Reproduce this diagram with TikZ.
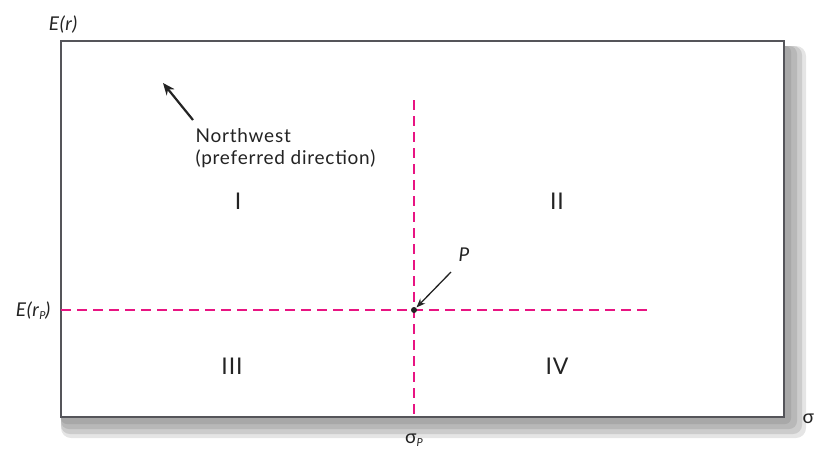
\documentclass[tikz,border=0pt]{standalone}
\usepackage{fontspec}
\setmainfont{Lato}[LetterSpace=4]
\usetikzlibrary{arrows.meta}

\definecolor{axisred}{RGB}{232,20,130}
\definecolor{boxgray}{RGB}{85,85,90}
\definecolor{inkgray}{RGB}{35,35,35}

\begin{document}
\begin{tikzpicture}[x=1pt,y=-1pt,line width=1.2pt,>=Stealth,
  every node/.style={text=inkgray,font=\fontsize{19}{22}\selectfont,inner sep=0pt},
  quad/.style={font=\fontsize{23}{26}\selectfont},
  dashaxis/.style={axisred,line width=1.5pt,dash pattern=on 10pt off 6pt},
  ptr/.style={->,inkgray}]
\useasboundingbox (0,0) rectangle (815,453);
% ================= shadow and frame =================
\fill[black!10,rounded corners=10pt] (61,46) rectangle (806,438);
\fill[black!20,rounded corners=9pt] (61,46) rectangle (802,434);
\fill[black!28,rounded corners=8pt] (61,46) rectangle (797,429);
\fill[black!34,rounded corners=6pt] (61,46) rectangle (791,424);
\fill[white] (61,41) rectangle (784,417);
\draw[boxgray,line width=1.4pt] (61,41) rectangle (784,417);
% ================= axis labels =================
\node (er) at (63,25) {\itshape E(r)};
\node[anchor=east] (erp) at (51,311) {\itshape E(r\kern0.5pt\raisebox{-3pt}{\fontsize{11}{12}\selectfont P})};
\node (sigp) at (414,440) {σ\raisebox{-3pt}{\fontsize{11}{12}\selectfont\itshape P}};
\node[anchor=west] (sig) at (802,419) {σ};
% ================= dashed lines through P =================
\coordinate (vtop) at (414,100);
\coordinate (vbot) at (414,417);
\coordinate (hleft) at (61,310);
\coordinate (hright) at (652,310);
\draw[dashaxis] (vtop) -- (vbot);
\draw[dashaxis] (hleft) -- (hright);
\node[circle,fill=inkgray,minimum size=6pt] (pt) at (414,310) {};
\node (plab) at (464,255) {\itshape P};
\draw[ptr,line width=1.3pt,-{Stealth[length=9pt,width=7pt]}] (451,272) -- (pt);
% ================= preferred direction =================
\node[anchor=north west,align=left] (nw) at (195,128) {Northwest\\(preferred direction)};
\coordinate (nwtail) at (193,120);
\coordinate (nwtip) at (163,83);
\draw[ptr,line width=2.2pt,-{Stealth[length=12pt,width=10pt]}] (nwtail) -- (nwtip);
% ================= quadrants =================
\node[quad] (q1) at (238,201) {I};
\node[quad] (q2) at (557,201) {II};
\node[quad] (q3) at (232,366) {III};
\node[quad] (q4) at (557,366) {IV};
\end{tikzpicture}
\end{document}
